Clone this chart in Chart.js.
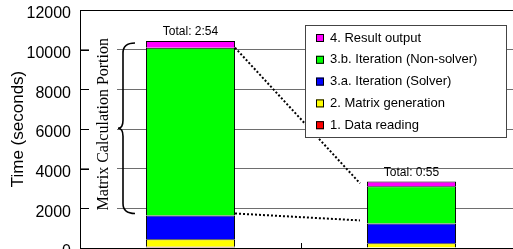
<!DOCTYPE html>
<html>
<head>
<meta charset="utf-8">
<script src="https://cdn.jsdelivr.net/npm/chart.js@4.4.0/dist/chart.umd.min.js"></script>
<style>
html, body { margin: 0; padding: 0; overflow: hidden; background: #fff; }
#wrap { position: relative; width: 513px; height: 249px; overflow: hidden; }
</style>
</head>
<body>
<div id="wrap"><canvas id="chart" width="522" height="282"></canvas></div>
<script>
var categories = ['Original', 'Optimized'];
var dataReading = [60, 30];
var matrixGeneration = [380, 210];
var iterSolver = [1200, 1000];
var iterNonSolver = [8460, 1870];
var resultOutput = [340, 240];
var totalLabels = ['Total: 2:54', 'Total: 0:55'];
var yMax = 12000;
var yStep = 2000;

// extra drawing: totals, brace, dotted lines, legend box
var extras = {
    id: 'extras',
    afterDraw: function (chart) {
        var ctx = chart.ctx;
        var area = chart.chartArea;
        var yScale = chart.scales.y;
        var green = chart.getDatasetMeta(3).data;
        var top = chart.getDatasetMeta(4).data;

        ctx.save();
        // top border
        ctx.strokeStyle = '#000';
        ctx.lineWidth = 1;
        ctx.beginPath();
        ctx.moveTo(area.left, area.top + 0.5);
        ctx.lineTo(area.right, area.top + 0.5);
        ctx.stroke();

        // inner ticks on y axis
        yScale.ticks.forEach(function (t) {
            var py = Math.round(yScale.getPixelForValue(t.value)) + 0.5;
            ctx.beginPath();
            ctx.moveTo(area.left, py);
            ctx.lineTo(area.left + 9, py);
            ctx.stroke();
        });

        // tick between categories
        var mid = Math.round((green[0].x + green[1].x) / 2) + 0.5;
        ctx.beginPath();
        ctx.moveTo(mid, area.bottom - 5);
        ctx.lineTo(mid, area.bottom);
        ctx.stroke();

        // totals
        ctx.fillStyle = '#000';
        ctx.font = '12px "Liberation Sans", Arial';
        ctx.textAlign = 'center';
        ctx.textBaseline = 'bottom';
        for (var i = 0; i < top.length; i++) {
            ctx.fillText(totalLabels[i], top[i].x, top[i].y - 3);
        }

        // dotted lines
        var b0 = green[0], b1 = green[1];
        var x0 = b0.x + b0.width / 2, x1 = b1.x - b1.width / 2 - 7;
        ctx.setLineDash([2, 2]);
        ctx.lineWidth = 2;
        ctx.beginPath();
        ctx.moveTo(x0, b0.y);
        ctx.lineTo(x1, b1.y - 3);
        ctx.moveTo(x0, b0.base - 2);
        ctx.lineTo(x1, b1.base - 3);
        ctx.stroke();
        ctx.setLineDash([]);

        // brace
        var bt = top[0].y + 2, bb = b0.base - 2, bm = (bt + bb) / 2;
        var tx = area.left + 55, sx = area.left + 43, px = area.left + 38;

        // white box behind the vertical label
        ctx.fillStyle = '#fff';
        ctx.fillRect(area.left + 9, bt - 6, 28, bb - bt + 4);

        ctx.lineWidth = 1.6;
        ctx.beginPath();
        ctx.moveTo(tx, bt);
        ctx.quadraticCurveTo(sx, bt, sx, bt + 10);
        ctx.lineTo(sx, bm - 8);
        ctx.quadraticCurveTo(sx, bm, px, bm);
        ctx.quadraticCurveTo(sx, bm, sx, bm + 8);
        ctx.lineTo(sx, bb - 10);
        ctx.quadraticCurveTo(sx, bb, tx, bb);
        ctx.stroke();

        // vertical serif label
        ctx.save();
        ctx.fillStyle = '#000';
        ctx.translate(area.left + 24, bm - 4);
        ctx.rotate(-Math.PI / 2);
        ctx.font = '16px "Liberation Serif", "Times New Roman", serif';
        ctx.textAlign = 'center';
        ctx.textBaseline = 'middle';
        ctx.fillText('Matrix Calculation Portion', 0, 0);
        ctx.restore();

        // legend
        var lx = area.left + 225, ly = area.top + 15, lw = 201, lh = 112;
        ctx.fillStyle = '#fff';
        ctx.fillRect(lx, ly, lw, lh);
        ctx.strokeStyle = '#444';
        ctx.lineWidth = 1;
        ctx.strokeRect(lx + 0.5, ly + 0.5, lw, lh);
        ctx.font = '13px "Liberation Sans", Arial';
        ctx.textAlign = 'left';
        ctx.textBaseline = 'middle';
        var ds = chart.data.datasets;
        for (var k = 0; k < ds.length; k++) {
            var d = ds[ds.length - 1 - k];
            var yy = ly + 13 + k * 21.8;
            ctx.fillStyle = d.backgroundColor;
            ctx.fillRect(lx + 11, yy - 4, 8, 8);
            ctx.strokeStyle = '#000';
            ctx.strokeRect(lx + 11.5, yy - 3.5, 7, 7);
            ctx.fillStyle = '#000';
            ctx.fillText(d.label, lx + 25, yy);
        }
        ctx.restore();
    }
};

function series(label, data, color) {
    return {
        label: label,
        data: data,
        backgroundColor: color,
        borderColor: '#000',
        borderWidth: 1,
        categoryPercentage: 1,
        barPercentage: 0.403
    };
}

var chart = new Chart(document.getElementById('chart'), {
    type: 'bar',
    data: {
        labels: categories,
        datasets: [
            series('1. Data reading', dataReading, '#ff0000'),
            series('2. Matrix generation', matrixGeneration, '#ffff00'),
            series('3.a. Iteration (Solver)', iterSolver, '#0000ff'),
            series('3.b. Iteration (Non-solver)', iterNonSolver, '#00ff00'),
            series('4. Result output', resultOutput, '#ff00ff')
        ]
    },
    options: {
        responsive: false,
        animation: false,
        layout: { padding: { top: 10, left: 0, right: 0, bottom: 0 } },
        plugins: {
            legend: { display: false },
            tooltip: { enabled: false }
        },
        scales: {
            x: {
                stacked: true,
                grid: { display: false },
                border: { color: '#000' },
                ticks: { color: '#000', font: { family: 'Liberation Sans', size: 13 } },
                afterFit: function (s) { s.height = 34; s.paddingLeft = 0; s.paddingRight = 0; }
            },
            y: {
                stacked: true,
                min: 0,
                max: yMax,
                ticks: {
                    stepSize: yStep,
                    color: '#000',
                    padding: 9,
                    labelOffset: 4,
                    font: { family: 'Liberation Sans', size: 16 },
                    callback: function (v) { return String(v); }
                },
                grid: { color: '#6e6e6e', drawTicks: false },
                border: { color: '#000' },
                title: {
                    display: true,
                    text: 'Time (seconds)',
                    color: '#000',
                    font: { family: 'Liberation Sans', size: 17 },
                    padding: { top: 8, bottom: 0 }
                },
                afterFit: function (s) { s.width = 80; s.paddingTop = 0; s.paddingBottom = 0; }
            }
        }
    },
    plugins: [extras]
});
</script>
</body>
</html>
